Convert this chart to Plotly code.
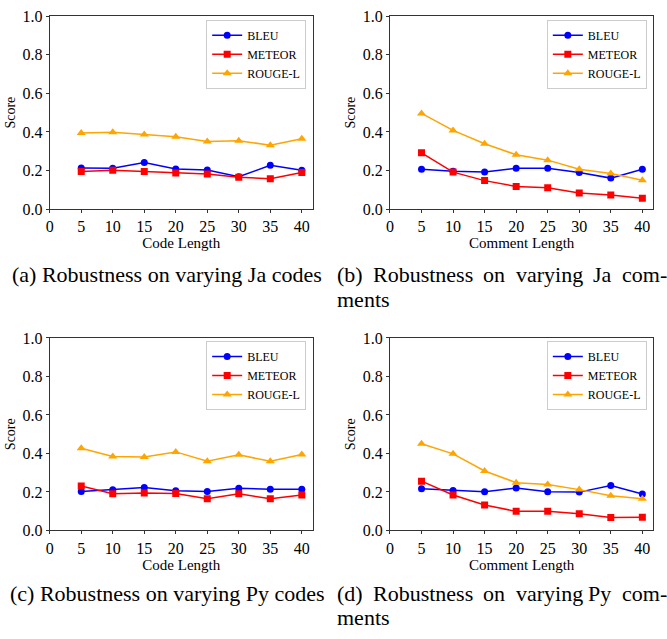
import plotly.graph_objects as go

W, H = 667, 639

lengths = [5, 10, 15, 20, 25, 30, 35, 40]
metrics = ["BLEU", "METEOR", "ROUGE-L"]

# (a) Ja codes
ja_code_bleu = [0.213, 0.212, 0.242, 0.208, 0.203, 0.168, 0.227, 0.202]
ja_code_meteor = [0.195, 0.202, 0.195, 0.187, 0.182, 0.166, 0.158, 0.190]
ja_code_rouge = [0.395, 0.398, 0.387, 0.375, 0.351, 0.355, 0.331, 0.365]
# (b) Ja comments
ja_com_bleu = [0.207, 0.197, 0.192, 0.212, 0.212, 0.190, 0.161, 0.207]
ja_com_meteor = [0.292, 0.192, 0.148, 0.118, 0.111, 0.084, 0.074, 0.057]
ja_com_rouge = [0.496, 0.408, 0.339, 0.282, 0.254, 0.207, 0.185, 0.150]
# (c) Py codes
py_code_bleu = [0.202, 0.211, 0.223, 0.206, 0.202, 0.219, 0.214, 0.214]
py_code_meteor = [0.231, 0.191, 0.194, 0.192, 0.165, 0.191, 0.164, 0.184]
py_code_rouge = [0.427, 0.384, 0.381, 0.408, 0.359, 0.393, 0.359, 0.395]
# (d) Py comments
py_com_bleu = [0.216, 0.207, 0.201, 0.221, 0.201, 0.199, 0.233, 0.189]
py_com_meteor = [0.256, 0.184, 0.132, 0.099, 0.099, 0.086, 0.067, 0.069]
py_com_rouge = [0.450, 0.398, 0.309, 0.248, 0.238, 0.212, 0.180, 0.165]

x_titles = ["Code Length", "Comment Length", "Code Length", "Comment Length"]
y_title = "Score"
x_ticks = [0, 5, 10, 15, 20, 25, 30, 35, 40]
y_ticks = [0.0, 0.2, 0.4, 0.6, 0.8, 1.0]

panels = [
    [ja_code_bleu, ja_code_meteor, ja_code_rouge],
    [ja_com_bleu, ja_com_meteor, ja_com_rouge],
    [py_code_bleu, py_code_meteor, py_code_rouge],
    [py_com_bleu, py_com_meteor, py_com_rouge],
]

colors = ["#0000ff", "#ff0000", "#ffa500"]
symbols = ["circle", "square", "triangle-up"]
msizes = [7, 7, 8]

FONT = "Liberation Serif, Times New Roman, serif"

def px_x(p):
    return p / W

def px_y(p):
    return 1 - p / H

# plot-area boxes in pixels: (left, right, top, bottom)
boxes = [
    (46, 310.7, 8.3, 206.7),
    (388.3, 653.3, 8.3, 206.7),
    (46, 310.7, 339, 536.7),
    (388.3, 653.3, 339, 536.7),
]
# legend boxes (right, top) in pixels
legend_pos = [(304, 12), (646.7, 12), (304, 342), (646.7, 342)]

fig = go.Figure()

for i, series in enumerate(panels):
    n = "" if i == 0 else str(i + 1)
    lg = "legend" if i == 0 else "legend" + str(i + 1)
    for j, vals in enumerate(series):
        fig.add_trace(go.Scatter(
            x=lengths, y=vals, mode="lines+markers", name=metrics[j],
            line=dict(color=colors[j], width=1.5),
            marker=dict(color=colors[j], symbol=symbols[j], size=msizes[j]),
            xaxis="x" + n, yaxis="y" + n, legend=lg,
        ))
    l, r, t, b = boxes[i]
    axis_common = dict(
        showline=True, linecolor="#333333", linewidth=1, mirror=True,
        ticks="outside", ticklen=3, tickcolor="#333333", tickwidth=1,
        showgrid=False, zeroline=False,
        tickfont=dict(family=FONT, size=16, color="black"),
    )
    fig.update_layout(**{
        "xaxis" + n: dict(
            domain=[px_x(l), px_x(r)], anchor="y" + n, range=[0, 41.75],
            tickmode="array", tickvals=x_ticks,
            title=dict(text=x_titles[i], font=dict(family=FONT, size=15, color="black"), standoff=1),
            **axis_common),
        "yaxis" + n: dict(
            domain=[px_y(b), px_y(t)], anchor="x" + n, range=[0, 1],
            tickmode="array", tickvals=y_ticks, tickformat=".1f",
            title=dict(text=y_title, font=dict(family=FONT, size=14, color="black"), standoff=3),
            **axis_common),
    })
    lr, lt = legend_pos[i]
    fig.update_layout(**{
        lg: dict(
            x=px_x(lr), y=px_y(lt), xanchor="right", yanchor="top",
            bgcolor="white", bordercolor="#cccccc", borderwidth=1,
            font=dict(family=FONT, size=12, color="black"),
            itemwidth=30, tracegroupgap=0,
        )
    })

CAP = 22
cap_font = dict(family=FONT, size=CAP, color="black")

def cap(text, x, y, anchor="left"):
    fig.add_annotation(text=text, x=px_x(x), y=px_y(y), xref="paper", yref="paper",
                       xanchor=anchor, yanchor="middle", showarrow=False, font=cap_font)

# single-line captions
cap("(a) Robustness on varying Ja codes", 6, 274)
cap("(c) Robustness on varying Py codes", 4, 602)

# justified two-line captions
words_b = ["(b)", "Robustness", "on", "varying", "Ja", "com-"]
words_d = ["(d)", "Robustness", "on", "varying", "Py", "com-"]
pos_b = [333, 369.5, 480, 513, 591, 620]
pos_d = [333, 369.5, 480, 513, 586, 620]
for w, xp in zip(words_b, pos_b):
    cap(w, xp, 274)
cap("ments", 333, 299)
for w, xp in zip(words_d, pos_d):
    cap(w, xp, 602)
cap("ments", 333, 626)

fig.update_layout(
    width=W, height=H, margin=dict(l=0, r=0, t=0, b=0),
    paper_bgcolor="white", plot_bgcolor="white", showlegend=True,
)

fig.write_html("out.html", config={"displayModeBar": False},
               post_script="document.body.style.margin='0';document.body.style.padding='0';")
